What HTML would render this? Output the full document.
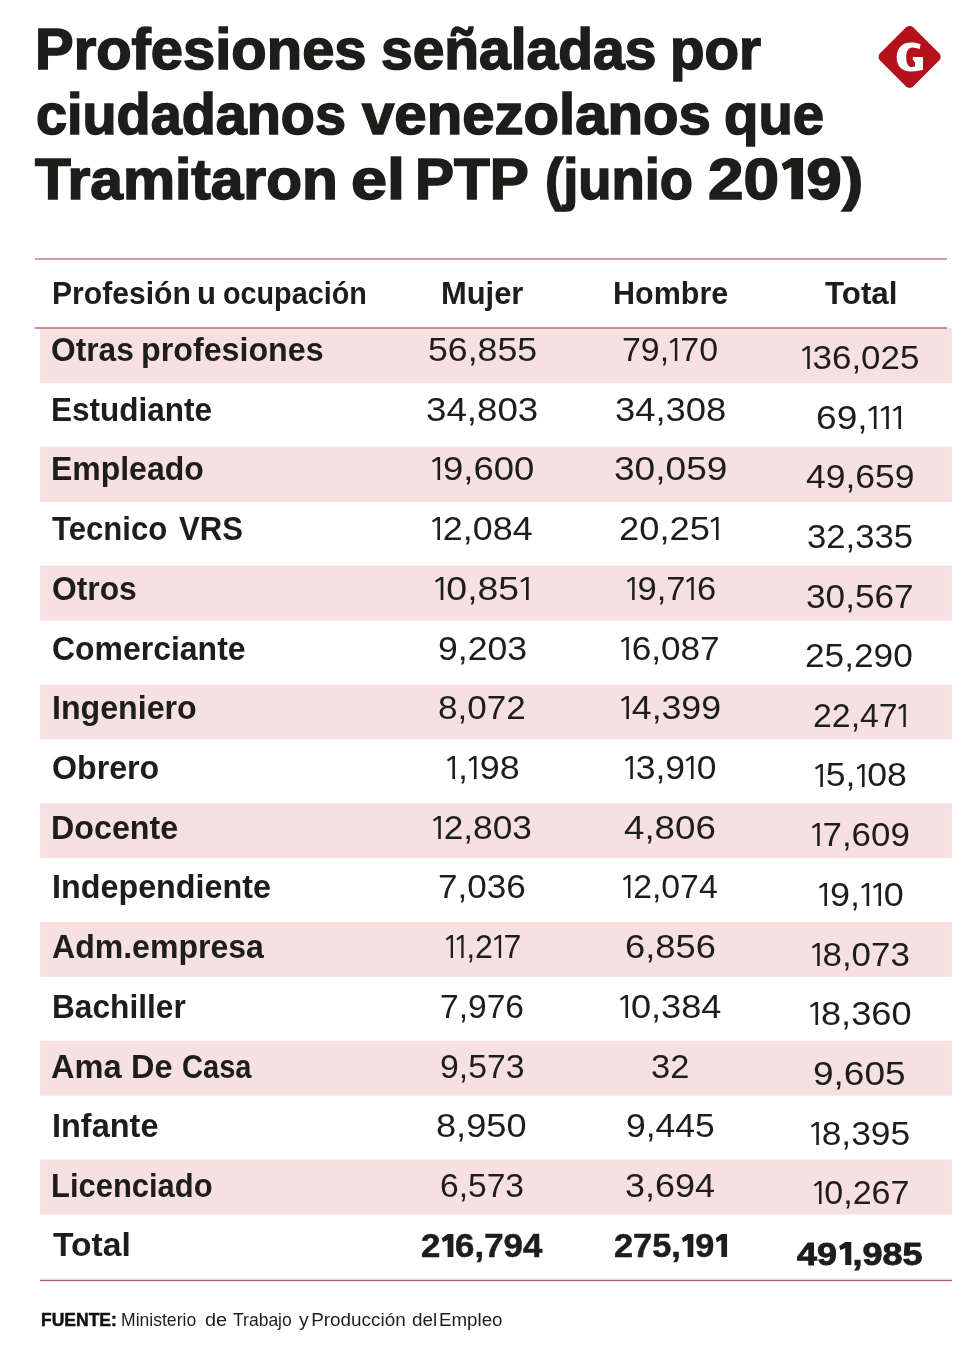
<!DOCTYPE html>
<html lang="es"><head><meta charset="utf-8"><title>Profesiones PTP</title>
<style>
html,body{margin:0;padding:0;background:#fff;}
body{width:980px;height:1349px;position:relative;overflow:hidden;font-family:"Liberation Sans",sans-serif;color:#1d1d1b;}
.t{position:absolute;white-space:nowrap;transform-origin:0 0;}
.tx{position:absolute;left:0;top:0;width:980px;height:1349px;will-change:transform;}
.ln{position:absolute;height:1px;}
.o,.ob{height:22.9px;fill:currentColor;vertical-align:baseline;overflow:visible}.ot{width:24.6px;height:41.3px;margin-bottom:-0.8px;fill:currentColor;vertical-align:baseline;overflow:visible}.o{width:11.03px}.ob{width:13.74px}
</style></head><body>
<svg style="position:absolute;left:0;top:0" width="980" height="1349" viewBox="0 0 980 1349" fill="#f6e1e0"><rect class="band" x="40.1" y="328.10" width="911.8" height="55"/><rect class="band" x="40.1" y="446.87" width="911.8" height="55"/><rect class="band" x="40.1" y="565.64" width="911.8" height="55"/><rect class="band" x="40.1" y="684.41" width="911.8" height="55"/><rect class="band" x="40.1" y="803.18" width="911.8" height="55"/><rect class="band" x="40.1" y="921.95" width="911.8" height="55"/><rect class="band" x="40.1" y="1040.72" width="911.8" height="55"/><rect class="band" x="40.1" y="1159.49" width="911.8" height="55"/></svg>
<div class="ln" style="left:35px;width:912px;top:258px;height:2px;background:#d79a9f"></div>
<div class="ln" style="left:35px;width:912px;top:327px;height:2px;background:#cb8b92"></div>
<div class="ln" style="left:40px;width:912px;top:1278px;background:#fbeced"></div>
<div class="ln" style="left:40px;width:912px;top:1279px;background:#f3d9db"></div>
<div class="ln" style="left:40px;width:912px;top:1281px;background:#f8e3e5"></div>
<div class="ln" style="left:40px;width:912px;top:1280px;background:#946a70"></div>
<svg style="position:absolute;left:870px;top:18px" width="80" height="80" viewBox="870 18 80 80"><rect x="886.2" y="33.5" width="46.8" height="46.8" rx="5" fill="#b5111c" transform="rotate(45 909.6 56.9)"/><path fill="#fff" d="M920.6 44.3C917.8 43.1 914.3 42.5 911 42.5C902 42.5 896.7 48.5 896.7 57.2C896.7 66 902 71.5 910.8 71.5C915.3 71.5 919.5 70.9 923 69.8L923 57L912.8 57L912.8 59.6L915 62.4L915 66.6C914 66.9 913 67.1 912 67.1C908 67.1 906.2 63 906.2 57.2C906.2 51.4 908.2 47.4 912.4 47.4C914.9 47.4 917.4 48.1 919.6 49.2Z"/></svg>
<div class="tx">
<div class="t" id="t1a" style="left:35.01px;top:21.36px;font-size:57.7px;line-height:57.7px;font-weight:700;-webkit-text-stroke:1.6px #1d1d1b;transform:scaleX(1.0041);">Profesiones</div>
<div class="t" id="t1b" style="left:381.01px;top:21.36px;font-size:57.7px;line-height:57.7px;font-weight:700;-webkit-text-stroke:1.6px #1d1d1b;transform:scaleX(0.9869);">señaladas</div>
<div class="t" id="t1c" style="left:669.98px;top:21.36px;font-size:57.7px;line-height:57.7px;font-weight:700;-webkit-text-stroke:1.6px #1d1d1b;transform:scaleX(0.9794);">por</div>
<div class="t" id="t2a" style="left:36.04px;top:85.56px;font-size:57.7px;line-height:57.7px;font-weight:700;-webkit-text-stroke:1.6px #1d1d1b;transform:scaleX(0.9669);">ciudadanos</div>
<div class="t" id="t2b" style="left:361.72px;top:85.56px;font-size:57.7px;line-height:57.7px;font-weight:700;-webkit-text-stroke:1.6px #1d1d1b;transform:scaleX(1.0077);">venezolanos</div>
<div class="t" id="t2c" style="left:723.87px;top:85.56px;font-size:57.7px;line-height:57.7px;font-weight:700;-webkit-text-stroke:1.6px #1d1d1b;transform:scaleX(0.9757);">que</div>
<div class="t" id="t3a" style="left:35.01px;top:150.56px;font-size:57.7px;line-height:57.7px;font-weight:700;-webkit-text-stroke:1.6px #1d1d1b;transform:scaleX(1.0154);">Tramitaron</div>
<div class="t" id="t3b" style="left:350.77px;top:150.56px;font-size:57.7px;line-height:57.7px;font-weight:700;-webkit-text-stroke:1.6px #1d1d1b;transform:scaleX(1.1223);">el</div>
<div class="t" id="t3c" style="left:414.84px;top:150.56px;font-size:57.7px;line-height:57.7px;font-weight:700;-webkit-text-stroke:1.6px #1d1d1b;transform:scaleX(1.0157);">PTP</div>
<div class="t" id="t3d" style="left:545.45px;top:150.56px;font-size:57.7px;line-height:57.7px;font-weight:700;-webkit-text-stroke:1.6px #1d1d1b;transform:scaleX(0.9435);">(junio</div>
<div class="t" id="t3e" style="left:707.93px;top:150.56px;font-size:57.7px;line-height:57.7px;font-weight:700;-webkit-text-stroke:1.6px #1d1d1b;transform:scaleX(1.1079);">20<svg class="ot" viewBox="0 0 24.6 41.3"><path d="M11.2 0H21.8V41.3H11.2V9L4.7 12.3L2.5 5.8Z"/></svg>9)</div>
<div class="t" id="h0a" style="left:51.66px;top:278.46px;font-size:31px;line-height:31px;font-weight:700;transform:scaleX(0.9711);">Profesión</div>
<div class="t" id="h0b" style="left:197.00px;top:278.46px;font-size:31px;line-height:31px;font-weight:700;transform:scaleX(1.0029);">u</div>
<div class="t" id="h0c" style="left:222.67px;top:278.46px;font-size:31px;line-height:31px;font-weight:700;transform:scaleX(0.9276);">ocupación</div>
<div class="t" id="h1" style="left:440.96px;top:278.46px;font-size:31px;line-height:31px;font-weight:700;transform:scaleX(0.9966);">Mujer</div>
<div class="t" id="h2" style="left:612.98px;top:278.46px;font-size:31px;line-height:31px;font-weight:700;transform:scaleX(0.9837);">Hombre</div>
<div class="t" id="h3" style="left:825.00px;top:278.46px;font-size:31px;line-height:31px;font-weight:700;transform:scaleX(1.0093);">Total</div>
<div class="t" id="l0a" style="left:51.46px;top:332.91px;font-size:33.3px;line-height:33.3px;font-weight:700;transform:scaleX(0.9526);">Otras</div>
<div class="t" id="l0b" style="left:141.08px;top:332.91px;font-size:33.3px;line-height:33.3px;font-weight:700;transform:scaleX(0.9677);">profesiones</div>
<div class="t" id="l1" style="left:51.13px;top:392.59px;font-size:33.3px;line-height:33.3px;font-weight:700;transform:scaleX(0.9456);">Estudiante</div>
<div class="t" id="l2" style="left:51.11px;top:452.27px;font-size:33.3px;line-height:33.3px;font-weight:700;transform:scaleX(0.9596);">Empleado</div>
<div class="t" id="l3a" style="left:52.41px;top:511.95px;font-size:33.3px;line-height:33.3px;font-weight:700;transform:scaleX(0.9346);">Tecnico</div>
<div class="t" id="l3b" style="left:178.59px;top:511.95px;font-size:33.3px;line-height:33.3px;font-weight:700;transform:scaleX(0.9328);">VRS</div>
<div class="t" id="l4" style="left:52.02px;top:571.63px;font-size:33.3px;line-height:33.3px;font-weight:700;transform:scaleX(0.9541);">Otros</div>
<div class="t" id="l5" style="left:52.05px;top:632.31px;font-size:33.3px;line-height:33.3px;font-weight:700;transform:scaleX(0.9596);">Comerciante</div>
<div class="t" id="l6" style="left:52.08px;top:690.99px;font-size:33.3px;line-height:33.3px;font-weight:700;transform:scaleX(0.9656);">Ingeniero</div>
<div class="t" id="l7" style="left:51.98px;top:750.67px;font-size:33.3px;line-height:33.3px;font-weight:700;transform:scaleX(0.9658);">Obrero</div>
<div class="t" id="l8" style="left:51.14px;top:811.35px;font-size:33.3px;line-height:33.3px;font-weight:700;transform:scaleX(0.9681);">Docente</div>
<div class="t" id="l9" style="left:51.95px;top:870.03px;font-size:33.3px;line-height:33.3px;font-weight:700;transform:scaleX(0.9701);">Independiente</div>
<div class="t" id="l10" style="left:52.04px;top:929.71px;font-size:33.3px;line-height:33.3px;font-weight:700;transform:scaleX(0.9622);">Adm.empresa</div>
<div class="t" id="l11" style="left:52.05px;top:990.39px;font-size:33.3px;line-height:33.3px;font-weight:700;transform:scaleX(0.9506);">Bachiller</div>
<div class="t" id="l12a" style="left:51.43px;top:1050.07px;font-size:33.3px;line-height:33.3px;font-weight:700;transform:scaleX(0.9789);">Ama</div>
<div class="t" id="l12b" style="left:131.47px;top:1050.07px;font-size:33.3px;line-height:33.3px;font-weight:700;transform:scaleX(0.9746);">De</div>
<div class="t" id="l12c" style="left:181.95px;top:1050.07px;font-size:33.3px;line-height:33.3px;font-weight:700;transform:scaleX(0.8734);">Casa</div>
<div class="t" id="l13" style="left:52.11px;top:1108.75px;font-size:33.3px;line-height:33.3px;font-weight:700;transform:scaleX(0.9754);">Infante</div>
<div class="t" id="l14" style="left:51.17px;top:1169.43px;font-size:33.3px;line-height:33.3px;font-weight:700;transform:scaleX(0.9290);">Licenciado</div>
<div class="t" id="l15" style="left:53.00px;top:1228.11px;font-size:33.3px;line-height:33.3px;font-weight:700;transform:scaleX(1.0098);">Total</div>
<div class="t" id="n0_0" style="left:427.88px;top:332.91px;font-size:33.3px;line-height:33.3px;transform:scaleX(1.0716);">56,855</div>
<div class="t" id="n1_0" style="left:622.03px;top:332.91px;font-size:33.3px;line-height:33.3px;transform:scaleX(1.0178);">79,<svg class="o" viewBox="0 0 10.6 22"><path d="M5.7 0H8V22H5.7V2.6L1.9 5.2L0.8 3.5Z"/></svg>70</div>
<div class="t" id="n2_0" style="left:800.97px;top:340.71px;font-size:33.3px;line-height:33.3px;transform:scaleX(1.0491);"><svg class="o" viewBox="0 0 10.6 22"><path d="M5.7 0H8V22H5.7V2.6L1.9 5.2L0.8 3.5Z"/></svg>36,025</div>
<div class="t" id="n0_1" style="left:426.28px;top:392.59px;font-size:33.3px;line-height:33.3px;transform:scaleX(1.1017);">34,803</div>
<div class="t" id="n1_1" style="left:614.85px;top:392.59px;font-size:33.3px;line-height:33.3px;transform:scaleX(1.0926);">34,308</div>
<div class="t" id="n2_1" style="left:816.29px;top:401.39px;font-size:33.3px;line-height:33.3px;transform:scaleX(1.1144);">69,<svg class="o" viewBox="0 0 10.6 22"><path d="M5.7 0H8V22H5.7V2.6L1.9 5.2L0.8 3.5Z"/></svg><svg class="o" viewBox="0 0 10.6 22"><path d="M5.7 0H8V22H5.7V2.6L1.9 5.2L0.8 3.5Z"/></svg><svg class="o" viewBox="0 0 10.6 22"><path d="M5.7 0H8V22H5.7V2.6L1.9 5.2L0.8 3.5Z"/></svg></div>
<div class="t" id="n0_2" style="left:430.83px;top:452.27px;font-size:33.3px;line-height:33.3px;transform:scaleX(1.0944);"><svg class="o" viewBox="0 0 10.6 22"><path d="M5.7 0H8V22H5.7V2.6L1.9 5.2L0.8 3.5Z"/></svg>9,600</div>
<div class="t" id="n1_2" style="left:613.82px;top:452.27px;font-size:33.3px;line-height:33.3px;transform:scaleX(1.1137);">30,059</div>
<div class="t" id="n2_2" style="left:805.95px;top:460.07px;font-size:33.3px;line-height:33.3px;transform:scaleX(1.0665);">49,659</div>
<div class="t" id="n0_3" style="left:431.37px;top:511.95px;font-size:33.3px;line-height:33.3px;transform:scaleX(1.0767);"><svg class="o" viewBox="0 0 10.6 22"><path d="M5.7 0H8V22H5.7V2.6L1.9 5.2L0.8 3.5Z"/></svg>2,084</div>
<div class="t" id="n1_3" style="left:619.33px;top:511.95px;font-size:33.3px;line-height:33.3px;transform:scaleX(1.0905);">20,25<svg class="o" viewBox="0 0 10.6 22"><path d="M5.7 0H8V22H5.7V2.6L1.9 5.2L0.8 3.5Z"/></svg></div>
<div class="t" id="n2_3" style="left:806.85px;top:519.75px;font-size:33.3px;line-height:33.3px;transform:scaleX(1.0410);">32,335</div>
<div class="t" id="n0_4" style="left:434.38px;top:571.63px;font-size:33.3px;line-height:33.3px;transform:scaleX(1.1231);"><svg class="o" viewBox="0 0 10.6 22"><path d="M5.7 0H8V22H5.7V2.6L1.9 5.2L0.8 3.5Z"/></svg>0,85<svg class="o" viewBox="0 0 10.6 22"><path d="M5.7 0H8V22H5.7V2.6L1.9 5.2L0.8 3.5Z"/></svg></div>
<div class="t" id="n1_4" style="left:626.01px;top:571.63px;font-size:33.3px;line-height:33.3px;transform:scaleX(1.0373);"><svg class="o" viewBox="0 0 10.6 22"><path d="M5.7 0H8V22H5.7V2.6L1.9 5.2L0.8 3.5Z"/></svg>9,7<svg class="o" viewBox="0 0 10.6 22"><path d="M5.7 0H8V22H5.7V2.6L1.9 5.2L0.8 3.5Z"/></svg>6</div>
<div class="t" id="n2_4" style="left:806.47px;top:580.43px;font-size:33.3px;line-height:33.3px;transform:scaleX(1.0571);">30,567</div>
<div class="t" id="n0_5" style="left:437.84px;top:632.31px;font-size:33.3px;line-height:33.3px;transform:scaleX(1.0690);">9,203</div>
<div class="t" id="n1_5" style="left:620.45px;top:632.31px;font-size:33.3px;line-height:33.3px;transform:scaleX(1.0561);"><svg class="o" viewBox="0 0 10.6 22"><path d="M5.7 0H8V22H5.7V2.6L1.9 5.2L0.8 3.5Z"/></svg>6,087</div>
<div class="t" id="n2_5" style="left:805.47px;top:639.11px;font-size:33.3px;line-height:33.3px;transform:scaleX(1.0588);">25,290</div>
<div class="t" id="n0_6" style="left:437.91px;top:690.99px;font-size:33.3px;line-height:33.3px;transform:scaleX(1.0533);">8,072</div>
<div class="t" id="n1_6" style="left:619.91px;top:690.99px;font-size:33.3px;line-height:33.3px;transform:scaleX(1.0709);"><svg class="o" viewBox="0 0 10.6 22"><path d="M5.7 0H8V22H5.7V2.6L1.9 5.2L0.8 3.5Z"/></svg>4,399</div>
<div class="t" id="n2_6" style="left:812.58px;top:698.79px;font-size:33.3px;line-height:33.3px;transform:scaleX(1.0163);">22,47<svg class="o" viewBox="0 0 10.6 22"><path d="M5.7 0H8V22H5.7V2.6L1.9 5.2L0.8 3.5Z"/></svg></div>
<div class="t" id="n0_7" style="left:445.92px;top:750.67px;font-size:33.3px;line-height:33.3px;transform:scaleX(1.0784);"><svg class="o" viewBox="0 0 10.6 22"><path d="M5.7 0H8V22H5.7V2.6L1.9 5.2L0.8 3.5Z"/></svg>,<svg class="o" viewBox="0 0 10.6 22"><path d="M5.7 0H8V22H5.7V2.6L1.9 5.2L0.8 3.5Z"/></svg>98</div>
<div class="t" id="n1_7" style="left:623.91px;top:750.67px;font-size:33.3px;line-height:33.3px;transform:scaleX(1.0646);"><svg class="o" viewBox="0 0 10.6 22"><path d="M5.7 0H8V22H5.7V2.6L1.9 5.2L0.8 3.5Z"/></svg>3,9<svg class="o" viewBox="0 0 10.6 22"><path d="M5.7 0H8V22H5.7V2.6L1.9 5.2L0.8 3.5Z"/></svg>0</div>
<div class="t" id="n2_7" style="left:813.88px;top:758.47px;font-size:33.3px;line-height:33.3px;transform:scaleX(1.0691);"><svg class="o" viewBox="0 0 10.6 22"><path d="M5.7 0H8V22H5.7V2.6L1.9 5.2L0.8 3.5Z"/></svg>5,<svg class="o" viewBox="0 0 10.6 22"><path d="M5.7 0H8V22H5.7V2.6L1.9 5.2L0.8 3.5Z"/></svg>08</div>
<div class="t" id="n0_8" style="left:432.47px;top:811.35px;font-size:33.3px;line-height:33.3px;transform:scaleX(1.0590);"><svg class="o" viewBox="0 0 10.6 22"><path d="M5.7 0H8V22H5.7V2.6L1.9 5.2L0.8 3.5Z"/></svg>2,803</div>
<div class="t" id="n1_8" style="left:624.41px;top:811.35px;font-size:33.3px;line-height:33.3px;transform:scaleX(1.1028);">4,806</div>
<div class="t" id="n2_8" style="left:810.97px;top:818.15px;font-size:33.3px;line-height:33.3px;transform:scaleX(1.0473);"><svg class="o" viewBox="0 0 10.6 22"><path d="M5.7 0H8V22H5.7V2.6L1.9 5.2L0.8 3.5Z"/></svg>7,609</div>
<div class="t" id="n0_9" style="left:437.91px;top:870.03px;font-size:33.3px;line-height:33.3px;transform:scaleX(1.0533);">7,036</div>
<div class="t" id="n1_9" style="left:622.48px;top:870.03px;font-size:33.3px;line-height:33.3px;transform:scaleX(1.0142);"><svg class="o" viewBox="0 0 10.6 22"><path d="M5.7 0H8V22H5.7V2.6L1.9 5.2L0.8 3.5Z"/></svg>2,074</div>
<div class="t" id="n2_9" style="left:817.91px;top:877.83px;font-size:33.3px;line-height:33.3px;transform:scaleX(1.0809);"><svg class="o" viewBox="0 0 10.6 22"><path d="M5.7 0H8V22H5.7V2.6L1.9 5.2L0.8 3.5Z"/></svg>9,<svg class="o" viewBox="0 0 10.6 22"><path d="M5.7 0H8V22H5.7V2.6L1.9 5.2L0.8 3.5Z"/></svg><svg class="o" viewBox="0 0 10.6 22"><path d="M5.7 0H8V22H5.7V2.6L1.9 5.2L0.8 3.5Z"/></svg>0</div>
<div class="t" id="n0_10" style="left:444.51px;top:929.71px;font-size:33.3px;line-height:33.3px;transform:scaleX(0.9625);"><svg class="o" viewBox="0 0 10.6 22"><path d="M5.7 0H8V22H5.7V2.6L1.9 5.2L0.8 3.5Z"/></svg><svg class="o" viewBox="0 0 10.6 22"><path d="M5.7 0H8V22H5.7V2.6L1.9 5.2L0.8 3.5Z"/></svg>,2<svg class="o" viewBox="0 0 10.6 22"><path d="M5.7 0H8V22H5.7V2.6L1.9 5.2L0.8 3.5Z"/></svg>7</div>
<div class="t" id="n1_10" style="left:624.92px;top:929.71px;font-size:33.3px;line-height:33.3px;transform:scaleX(1.0902);">6,856</div>
<div class="t" id="n2_10" style="left:810.97px;top:937.51px;font-size:33.3px;line-height:33.3px;transform:scaleX(1.0473);"><svg class="o" viewBox="0 0 10.6 22"><path d="M5.7 0H8V22H5.7V2.6L1.9 5.2L0.8 3.5Z"/></svg>8,073</div>
<div class="t" id="n0_11" style="left:439.94px;top:990.39px;font-size:33.3px;line-height:33.3px;transform:scaleX(1.0076);">7,976</div>
<div class="t" id="n1_11" style="left:618.81px;top:990.39px;font-size:33.3px;line-height:33.3px;transform:scaleX(1.0852);"><svg class="o" viewBox="0 0 10.6 22"><path d="M5.7 0H8V22H5.7V2.6L1.9 5.2L0.8 3.5Z"/></svg>0,384</div>
<div class="t" id="n2_11" style="left:808.86px;top:997.19px;font-size:33.3px;line-height:33.3px;transform:scaleX(1.0872);"><svg class="o" viewBox="0 0 10.6 22"><path d="M5.7 0H8V22H5.7V2.6L1.9 5.2L0.8 3.5Z"/></svg>8,360</div>
<div class="t" id="n0_12" style="left:440.00px;top:1050.07px;font-size:33.3px;line-height:33.3px;transform:scaleX(1.0143);">9,573</div>
<div class="t" id="n1_12" style="left:650.95px;top:1050.07px;font-size:33.3px;line-height:33.3px;transform:scaleX(1.0328);">32</div>
<div class="t" id="n2_12" style="left:813.40px;top:1056.87px;font-size:33.3px;line-height:33.3px;transform:scaleX(1.1113);">9,605</div>
<div class="t" id="n0_13" style="left:436.38px;top:1108.75px;font-size:33.3px;line-height:33.3px;transform:scaleX(1.0865);">8,950</div>
<div class="t" id="n1_13" style="left:625.50px;top:1108.75px;font-size:33.3px;line-height:33.3px;transform:scaleX(1.0653);">9,445</div>
<div class="t" id="n2_13" style="left:809.92px;top:1116.55px;font-size:33.3px;line-height:33.3px;transform:scaleX(1.0607);"><svg class="o" viewBox="0 0 10.6 22"><path d="M5.7 0H8V22H5.7V2.6L1.9 5.2L0.8 3.5Z"/></svg>8,395</div>
<div class="t" id="n0_14" style="left:439.94px;top:1169.43px;font-size:33.3px;line-height:33.3px;transform:scaleX(1.0076);">6,573</div>
<div class="t" id="n1_14" style="left:624.92px;top:1169.43px;font-size:33.3px;line-height:33.3px;transform:scaleX(1.0788);">3,694</div>
<div class="t" id="n2_14" style="left:812.99px;top:1176.23px;font-size:33.3px;line-height:33.3px;transform:scaleX(1.0226);"><svg class="o" viewBox="0 0 10.6 22"><path d="M5.7 0H8V22H5.7V2.6L1.9 5.2L0.8 3.5Z"/></svg>0,267</div>
<div class="t" id="n0_15" style="left:421.41px;top:1229.70px;font-size:32.6px;line-height:32.6px;font-weight:700;-webkit-text-stroke:0.5px #1d1d1b;transform:scaleX(1.0696);">2<svg class="ob" viewBox="0 0 13.2 22"><path d="M6.6 0H11.8V22H6.6V5.8L2.5 7.9L1.4 4.1Z"/></svg>6,794</div>
<div class="t" id="n1_15" style="left:613.87px;top:1229.70px;font-size:32.6px;line-height:32.6px;font-weight:700;-webkit-text-stroke:0.5px #1d1d1b;transform:scaleX(1.0539);">275,<svg class="ob" viewBox="0 0 13.2 22"><path d="M6.6 0H11.8V22H6.6V5.8L2.5 7.9L1.4 4.1Z"/></svg>9<svg class="ob" viewBox="0 0 13.2 22"><path d="M6.6 0H11.8V22H6.6V5.8L2.5 7.9L1.4 4.1Z"/></svg></div>
<div class="t" id="n2_15" style="left:796.99px;top:1237.71px;font-size:32.0px;line-height:32.0px;font-weight:700;-webkit-text-stroke:0.9px #1d1d1b;transform:scaleX(1.1245);">49<svg class="ob" viewBox="0 0 13.2 22"><path d="M6.6 0H11.8V22H6.6V5.8L2.5 7.9L1.4 4.1Z"/></svg>,985</div>
<div class="t" id="f0" style="left:41.09px;top:1311.40px;font-size:18.9px;line-height:18.9px;font-weight:700;color:#111;-webkit-text-stroke:0.5px #111;transform:scaleX(0.9271);">FUENTE:</div>
<div class="t" id="f1a" style="left:120.71px;top:1311.40px;font-size:18.9px;line-height:18.9px;transform:scaleX(0.9297);">Ministerio</div>
<div class="t" id="f1b" style="left:204.75px;top:1311.40px;font-size:18.9px;line-height:18.9px;transform:scaleX(1.0542);">de</div>
<div class="t" id="f1c" style="left:233.44px;top:1311.40px;font-size:18.9px;line-height:18.9px;transform:scaleX(0.9276);">Trabajo</div>
<div class="t" id="f1d" style="left:298.60px;top:1311.40px;font-size:18.9px;line-height:18.9px;transform:scaleX(1.0295);">y</div>
<div class="t" id="f1e" style="left:311.20px;top:1311.40px;font-size:18.9px;line-height:18.9px;">Producción</div>
<div class="t" id="f1f" style="left:411.81px;top:1311.40px;font-size:18.9px;line-height:18.9px;transform:scaleX(1.0008);">del</div>
<div class="t" id="f1g" style="left:438.80px;top:1311.40px;font-size:18.9px;line-height:18.9px;transform:scaleX(0.9920);">Empleo</div>
</div>
</body></html>
